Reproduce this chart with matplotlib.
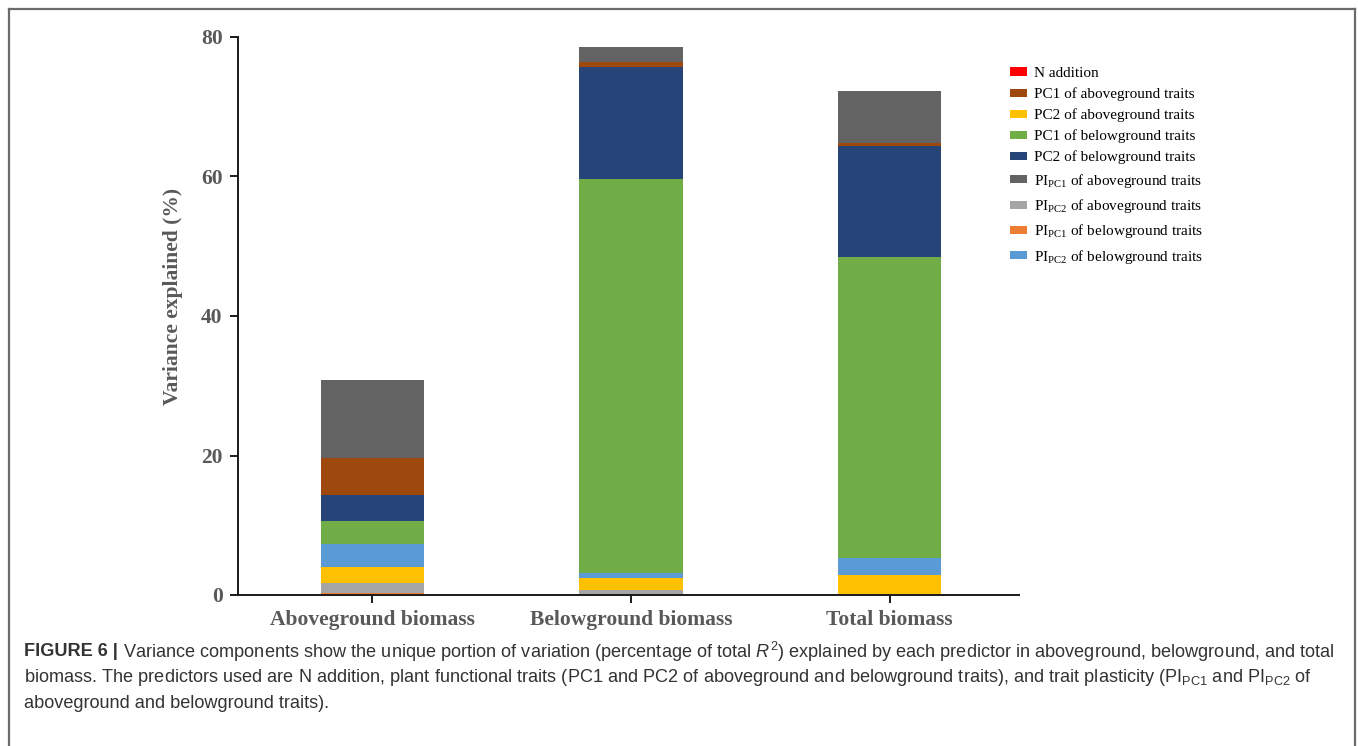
import matplotlib
matplotlib.use("Agg")
import matplotlib.pyplot as plt
from matplotlib.patches import Patch
from matplotlib.lines import Line2D

# ---- data -------------------------------------------------------------
categories = ["Aboveground biomass", "Belowground biomass", "Total biomass"]

n_addition = [0.0, 0.0, 0.0]
pc1_above = [5.25, 0.7, 0.4]
pc2_above = [2.3, 1.64, 2.87]
pc1_below = [3.35, 56.5, 43.15]
pc2_below = [3.7, 16.0, 16.0]
pi_pc1_above = [11.2, 2.2, 7.45]
pi_pc2_above = [1.5, 0.64, 0.0]
pi_pc1_below = [0.25, 0.12, 0.0]
pi_pc2_below = [3.25, 0.77, 2.4]

legend_labels = [
    "N addition",
    "PC1 of aboveground traits",
    "PC2 of aboveground traits",
    "PC1 of belowground traits",
    "PC2 of belowground traits",
    r"PI$_{\mathrm{PC1}}$ of aboveground traits",
    r"PI$_{\mathrm{PC2}}$ of aboveground traits",
    r"PI$_{\mathrm{PC1}}$ of belowground traits",
    r"PI$_{\mathrm{PC2}}$ of belowground traits",
]
yticks = [0, 20, 40, 60, 80]

# ---- styling ----------------------------------------------------------
cap_font = "Liberation Sans"
plt.rcParams["mathtext.fontset"] = "custom"
plt.rcParams["mathtext.rm"] = "Liberation Serif"
plt.rcParams["mathtext.sf"] = cap_font
plt.rcParams["mathtext.it"] = cap_font + ":italic"

series = {
    "N addition": (n_addition, "#FF0000"),
    "PC1 of aboveground traits": (pc1_above, "#9E480E"),
    "PC2 of aboveground traits": (pc2_above, "#FFC000"),
    "PC1 of belowground traits": (pc1_below, "#70AD47"),
    "PC2 of belowground traits": (pc2_below, "#264478"),
    "PIPC1 above": (pi_pc1_above, "#636363"),
    "PIPC2 above": (pi_pc2_above, "#A5A5A5"),
    "PIPC1 below": (pi_pc1_below, "#ED7D31"),
    "PIPC2 below": (pi_pc2_below, "#5B9BD5"),
}
legend_keys = list(series.keys())

# stacking order, bottom to top
stack_order = [
    "N addition", "PIPC1 below", "PIPC2 above", "PC2 of aboveground traits",
    "PIPC2 below", "PC1 of belowground traits", "PC2 of belowground traits",
    "PC1 of aboveground traits", "PIPC1 above",
]

W, H = 1358, 746
fig = plt.figure(figsize=(W / 100, H / 100), dpi=100)
ax = fig.add_axes([238 / W, (H - 595) / H, (1019 - 238) / W, 558 / H])

x = list(range(len(categories)))
bottom = [0.0] * len(categories)
for key in stack_order:
    vals, col = series[key]
    ax.bar(x, vals, width=0.4, bottom=bottom, color=col, linewidth=0, zorder=2)
    bottom = [b + v for b, v in zip(bottom, vals)]

ax.set_xlim(-0.52, 2.5)
ax.set_ylim(0, 80)
ax.set_yticks(yticks)
ax.set_xticks(x)
ax.set_xticklabels(categories)
for s in ("top", "right"):
    ax.spines[s].set_visible(False)
for s in ("left", "bottom"):
    ax.spines[s].set_color("#1a1a1a")
    ax.spines[s].set_linewidth(1.4)
ax.tick_params(axis="both", direction="out", length=6, width=1.4, color="#1a1a1a",
               labelcolor="#595959")
ax.tick_params(axis="y", pad=5)
ax.tick_params(axis="x", pad=5)
for lab in ax.get_yticklabels() + ax.get_xticklabels():
    lab.set_fontfamily("Liberation Serif")
    lab.set_fontweight("bold")
    lab.set_fontsize(15.5)

fig.text(173 / W, (H - 296) / H, "Variance explained (%)", rotation=90,
         ha="center", va="center", fontsize=15.5, fontweight="bold",
         family="Liberation Serif", color="#595959")

handles = [Patch(facecolor=series[k][1], edgecolor="none") for k in legend_keys]
fig.legend(handles, legend_labels, loc="upper left",
           bbox_to_anchor=(1010 / W, (H - 67) / H), frameon=False,
           prop={"family": "Liberation Serif", "size": 11},
           handlelength=1.1, handleheight=0.45, handletextpad=0.45,
           labelspacing=0.48, borderaxespad=0, borderpad=0)

# ---- caption ----------------------------------------------------------
cap_col = "#333333"
cap_x0, cap_x1 = 24, 1340
line1_head = "FIGURE 6 |"
line1_body = (r"Variance components show the unique portion of variation (percentage of total $R^{\mathsf{2}}$) "
              "explained by each predictor in aboveground, belowground, and total")
line2 = ("biomass. The predictors used are N addition, plant functional traits (PC1 and PC2 of "
         r"aboveground and belowground traits), and trait plasticity (PI$_{\mathsf{PC1}}$ and PI$_{\mathsf{PC2}}$ of")
line3 = "aboveground and belowground traits)."

renderer = fig.canvas.get_renderer()


def caption_width(size):
    t1 = fig.text(0, 0, line1_head, fontsize=size, fontweight="bold", family=cap_font)
    t2 = fig.text(0, 0, line1_body, fontsize=size, family=cap_font)
    w = t1.get_window_extent(renderer).width + 5 + t2.get_window_extent(renderer).width
    t1.remove()
    t2.remove()
    return w


cap_size = 14.0
cap_size *= (cap_x1 - cap_x0) / caption_width(cap_size)

head = fig.text(cap_x0 / W, (H - 652) / H, line1_head, fontsize=cap_size,
                fontweight="bold", family=cap_font, color=cap_col, va="center")
bb = head.get_window_extent(renderer)
fig.text((bb.x1 + 5) / W, (H - 652) / H, line1_body,
         fontsize=cap_size, family=cap_font, color=cap_col, va="center")
fig.text(cap_x0 / W, (H - 678) / H, line2,
         fontsize=cap_size, family=cap_font, color=cap_col, va="center")
fig.text(cap_x0 / W, (H - 704) / H, line3,
         fontsize=cap_size, family=cap_font, color=cap_col, va="center")

# ---- outer frame --------------------------------------------------------
fx0, fx1, fy0 = 8.5 / W, 1354.5 / W, (H - 8.5) / H
for xs, ys in (([fx0, fx0], [0, fy0]), ([fx0, fx1], [fy0, fy0]), ([fx1, fx1], [fy0, 0])):
    fig.add_artist(Line2D(xs, ys, transform=fig.transFigure, color="#6b6b6b", lw=1.6))

fig.savefig("out.png", dpi=100)
